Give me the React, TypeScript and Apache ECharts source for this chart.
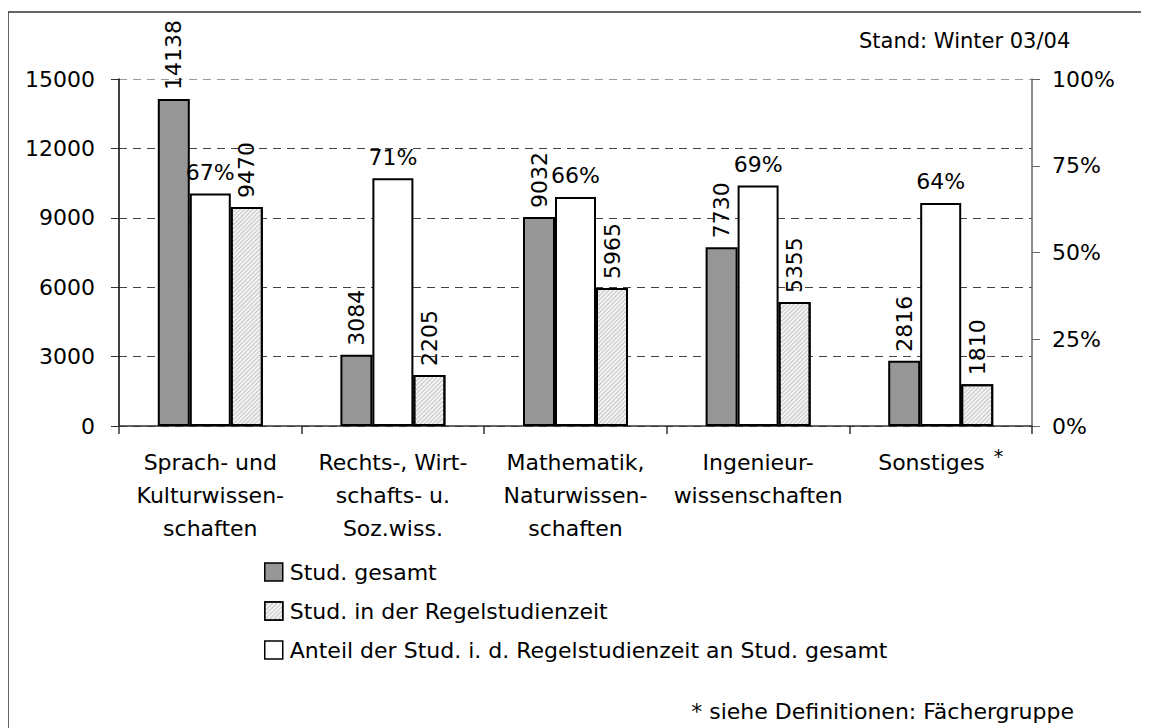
import React, { useEffect, useRef } from "react";
import * as echarts from "echarts";

const categories = [
  "Sprach- und\nKulturwissen-\nschaften",
  "Rechts-, Wirt-\nschafts- u.\nSoz.wiss.",
  "Mathematik,\nNaturwissen-\nschaften",
  "Ingenieur-\nwissenschaften",
  "Sonstiges",
];
const studGesamt = [14138, 3084, 9032, 7730, 2816];
const studRegel = [9470, 2205, 5965, 5355, 1810];
const anteil = [0.67, 0.714, 0.66, 0.693, 0.643];
const leftTicks = [0, 3000, 6000, 9000, 12000, 15000];
const rightTicks = [0, 0.25, 0.5, 0.75, 1];

const FONT = "DejaVu Sans";
const FS = 22;

export default function App() {
  const ref = useRef<HTMLDivElement>(null);
  useEffect(() => {
    if (!ref.current) return;
    const chart = echarts.init(ref.current, undefined, { renderer: "svg" });
    const hatch = {
      symbol: "rect",
      symbolSize: 1,
      color: "#c4c4c4",
      backgroundColor: "#f4f4f4",
      dashArrayX: [1, 0],
      dashArrayY: [1, 1.5],
      rotation: -Math.PI / 4,
    };
    const rotLabel = {
      show: true,
      position: "top",
      rotate: 90,
      align: "left",
      verticalAlign: "middle",
      distance: 9,
      fontFamily: FONT,
      fontSize: FS,
      color: "#000",
    };
    const option: any = {
      animation: false,
      textStyle: { fontFamily: FONT, color: "#000" },
      grid: { left: 111, right: 117, top: 71, bottom: 302, containLabel: false },
      graphic: [
        {
          type: "rect",
          shape: { x: 0, y: 4, width: 1200, height: 800 },
          style: { fill: "none", stroke: "#333", lineWidth: 1.5 },
          silent: true,
        },
        {
          type: "text",
          left: 851,
          top: 22,
          style: { text: "Stand: Winter 03/04", font: `21px '${FONT}'`, fill: "#000" },
        },
        {
          type: "text",
          right: 75,
          top: 692,
          style: { text: "* siehe Definitionen: Fächergruppe", font: `${FS}px '${FONT}'`, fill: "#000" },
        },
      ],
      legend: {
        orient: "vertical",
        left: 251,
        top: 546,
        itemWidth: 18,
        itemHeight: 18,
        itemGap: 13,
        icon: "rect",
        data: [
          "Stud. gesamt",
          "Stud. in der Regelstudienzeit",
          "Anteil der Stud. i. d. Regelstudienzeit an Stud. gesamt",
        ],
        textStyle: { fontFamily: FONT, fontSize: FS, color: "#000", lineHeight: 26, padding: [0, 0, 0, 2] },
        itemStyle: { borderColor: "#000", borderWidth: 1.5 },
      },
      xAxis: {
        type: "category",
        data: categories,
        axisLine: { lineStyle: { color: "#333", width: 1.5 } },
        axisTick: { show: true, length: 8, interval: 0, lineStyle: { color: "#333", width: 1.5 } },
        axisLabel: {
          interval: 0,
          margin: 20,
          fontFamily: FONT,
          fontSize: FS,
          lineHeight: 33,
          color: "#000",
          formatter: (v: string) => (v === "Sonstiges" ? "{n|Sonstiges}{s|*}" : v),
          rich: {
            n: { fontFamily: FONT, fontSize: FS, lineHeight: 33, color: "#000" },
            s: { fontFamily: FONT, fontSize: 19, color: "#000", verticalAlign: "top", padding: [0, 0, 14, 9] },
          },
        },
      },
      yAxis: [
        {
          type: "value",
          min: leftTicks[0],
          max: leftTicks[leftTicks.length - 1],
          interval: 3000,
          axisLine: { show: true, lineStyle: { color: "#000", width: 1.5 } },
          axisTick: { show: true, length: 8, lineStyle: { color: "#333" } },
          axisLabel: {
            fontFamily: FONT,
            fontSize: FS,
            color: "#000",
            margin: 24,
            formatter: (v: number) => String(v),
          },
          splitLine: {
            show: true,
            lineStyle: { color: ["#444", "#444", "#444", "#444", "#444", "#999"], type: [8, 6], width: 1.2 },
          },
        },
        {
          type: "value",
          min: rightTicks[0],
          max: rightTicks[rightTicks.length - 1],
          interval: 0.25,
          axisLine: { show: true, lineStyle: { color: "#666", width: 1.5 } },
          axisTick: { show: true, length: 8, lineStyle: { color: "#666" } },
          axisLabel: {
            fontFamily: FONT,
            fontSize: FS,
            color: "#000",
            margin: 20,
            formatter: (v: number) => Math.round(v * 100) + "%",
          },
          splitLine: { show: false },
        },
      ],
      series: [
        {
          name: "Stud. gesamt",
          type: "bar",
          yAxisIndex: 0,
          data: studGesamt,
          barWidth: 32,
          barGap: "0%",
          itemStyle: { color: "#969696", borderColor: "#000", borderWidth: 2 },
          label: rotLabel,
          z: 2,
        },
        {
          name: "Anteil der Stud. i. d. Regelstudienzeit an Stud. gesamt",
          type: "bar",
          yAxisIndex: 1,
          data: anteil,
          barWidth: 41,
          barGap: "0%",
          itemStyle: { color: "#fff", borderColor: "#000", borderWidth: 2 },
          label: {
            show: true,
            position: "top",
            distance: 10,
            fontFamily: FONT,
            fontSize: FS,
            color: "#000",
            formatter: (p: any) => Math.round(p.value * 100) + "%",
          },
          z: 3,
        },
        {
          name: "Stud. in der Regelstudienzeit",
          type: "bar",
          yAxisIndex: 0,
          data: studRegel,
          barWidth: 32,
          barGap: "0%",
          itemStyle: { color: "#f4f4f4", borderColor: "#000", borderWidth: 2, decal: hatch },
          label: rotLabel,
          z: 2,
        },
      ],
    };
    chart.setOption(option);
    return () => chart.dispose();
  }, []);
  return <div ref={ref} style={{ width: 1141, height: 720 }} />;
}
